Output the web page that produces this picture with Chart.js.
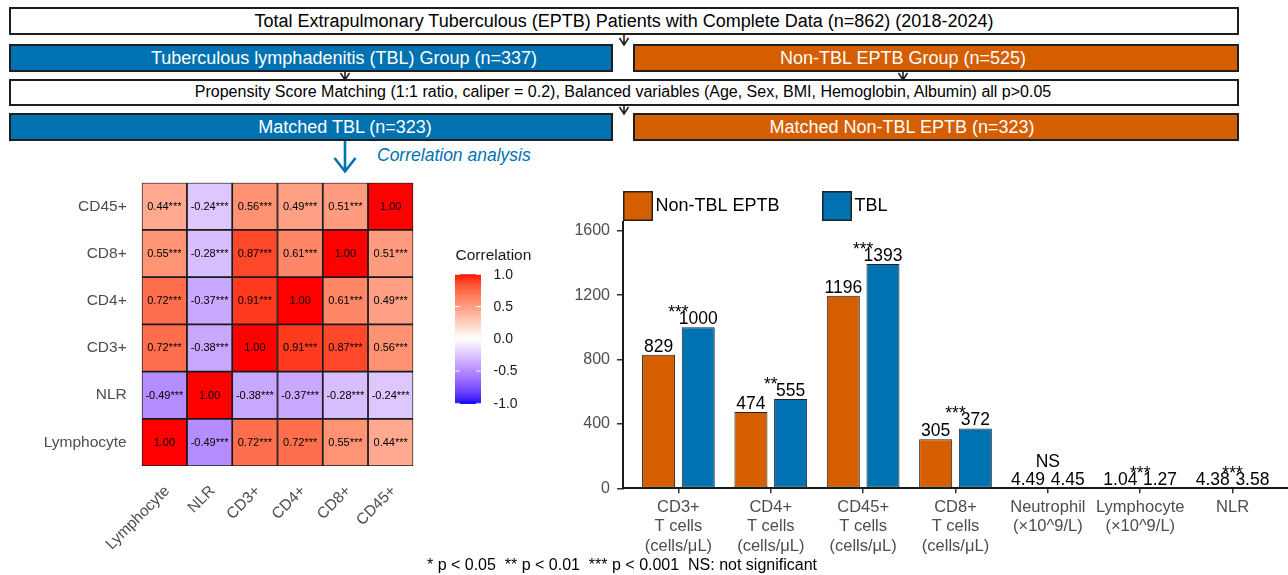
<!DOCTYPE html>
<html>
<head>
<meta charset="utf-8">
<script src="https://cdn.jsdelivr.net/npm/chart.js@4.4.1/dist/chart.umd.min.js"></script>
<style>
  html, body { margin: 0; padding: 0; background: #fff; }
  #page { position: relative; width: 1288px; height: 575px; overflow: hidden;
          font-family: "Liberation Sans", Arial, sans-serif; }
  .box { position: absolute; box-sizing: border-box; border: 2px solid #1e1e1e; }
  .white { background: #fff; }
  .blue { background: #0072B2; }
  .orange { background: #D55E00; }
  .txt { position: absolute; width: 1000px; text-align: center; white-space: pre; }
  canvas { position: absolute; }
  #flow { position: absolute; left: 0; top: 0; }
</style>
</head>
<body>
<div id="page">
  <!-- study flow -->
  <div class="box white"  style="left:9px;  top:7px;   width:1230px; height:28px;"></div>
  <div class="box blue"   style="left:9px;  top:44px;  width:604px;  height:28px;"></div>
  <div class="box orange" style="left:633px;top:44px;  width:606px;  height:28px;"></div>
  <div class="box white"  style="left:9px;  top:79px;  width:1230px; height:27px;"></div>
  <div class="box blue"   style="left:9px;  top:113px; width:604px;  height:28px;"></div>
  <div class="box orange" style="left:633px;top:113px; width:606px;  height:28px;"></div>

  <div class="txt" style="left:124px; top:10px;font-size:18px;line-height:22px;color:#000;">Total Extrapulmonary Tuberculous (EPTB) Patients with Complete Data (n=862) (2018-2024)</div>
  <div class="txt" style="left:-156px;top:47px;font-size:18px;line-height:22px;color:#fff;">Tuberculous lymphadenitis (TBL) Group (n=337)</div>
  <div class="txt" style="left:403px; top:47px;font-size:18px;line-height:22px;color:#fff;">Non-TBL EPTB Group (n=525)</div>
  <div class="txt" style="left:123px; top:82px;font-size:16px;line-height:20px;color:#000;">Propensity Score Matching (1:1 ratio, caliper = 0.2), Balanced variables (Age, Sex, BMI, Hemoglobin, Albumin) all p&gt;0.05</div>
  <div class="txt" style="left:-155px;top:116px;font-size:18px;line-height:22px;color:#fff;">Matched TBL (n=323)</div>
  <div class="txt" style="left:402px; top:116px;font-size:18px;line-height:22px;color:#fff;">Matched Non-TBL EPTB (n=323)</div>

  <svg id="flow" width="1288" height="180">
    <g fill="none" stroke="#1e1e1e" stroke-width="1.6">
      <path d="M624 35 V45 M619.5 38 L624 45 L628.5 38"/>
      <path d="M345 72 V80 M340.5 73 L345 80 L349.5 73"/>
      <path d="M903 72 V80 M898.5 73 L903 80 L907.5 73"/>
      <path d="M624 106 V114 M619.5 107 L624 114 L628.5 107"/>
    </g>
    <path d="M345 141 V171 M334.5 158 L345 171.5 L355.5 158" fill="none" stroke="#0072B2" stroke-width="2.6"/>
  </svg>
  <div class="txt" style="left:377px;top:145px;width:auto;text-align:left;font-size:17.5px;line-height:21px;font-style:italic;color:#0072B2;">Correlation analysis</div>

  <canvas id="heat" width="560" height="425" style="left:0;top:150px;width:560px;height:425px;"></canvas>
  <canvas id="bars" width="728" height="400" style="left:560px;top:175px;width:728px;height:400px;"></canvas>

  <div class="txt" style="left:122px;top:555px;font-size:16px;line-height:20px;color:#000;">* p &lt; 0.05  ** p &lt; 0.01  *** p &lt; 0.001  NS: not significant</div>
</div>

<script>
// ---------- correlation matrix (Spearman r) ----------
const corrVars = ["Lymphocyte", "NLR", "CD3+", "CD4+", "CD8+", "CD45+"];
const corrLymphocyte = [1.00, -0.49, 0.72, 0.72, 0.55, 0.44];
const corrNLR        = [-0.49, 1.00, -0.38, -0.37, -0.28, -0.24];
const corrCD3        = [0.72, -0.38, 1.00, 0.91, 0.87, 0.56];
const corrCD4        = [0.72, -0.37, 0.91, 1.00, 0.61, 0.49];
const corrCD8        = [0.55, -0.28, 0.87, 0.61, 1.00, 0.51];
const corrCD45       = [0.44, -0.24, 0.56, 0.49, 0.51, 1.00];
const sigLymphocyte  = ["", "***", "***", "***", "***", "***"];
const sigNLR         = ["***", "", "***", "***", "***", "***"];
const sigCD3         = ["***", "***", "", "***", "***", "***"];
const sigCD4         = ["***", "***", "***", "", "***", "***"];
const sigCD8         = ["***", "***", "***", "***", "", "***"];
const sigCD45        = ["***", "***", "***", "***", "***", ""];
const colorbarTicks  = [1.0, 0.5, 0.0, -0.5, -1.0];

// ---------- group means ----------
const markerLabels = [
  ["CD3+", "T cells", "(cells/\u03bcL)"],
  ["CD4+", "T cells", "(cells/\u03bcL)"],
  ["CD45+", "T cells", "(cells/\u03bcL)"],
  ["CD8+", "T cells", "(cells/\u03bcL)"],
  ["Neutrophil", "(\u00d710^9/L)"],
  ["Lymphocyte", "(\u00d710^9/L)"],
  ["NLR"]
];
const nonTblMeans = [829, 474, 1196, 305, 4.49, 1.04, 4.38];
const tblMeans    = [1000, 555, 1393, 372, 4.45, 1.27, 3.58];
const sigMarks    = ["***", "**", "***", "***", "NS", "***", "***"];
const yTicks      = [0, 400, 800, 1200, 1600];

const FONT = '"Liberation Sans", Arial, sans-serif';
Chart.defaults.font.family = FONT;
const AXIS_GREY = '#4D4D4D';
const ORANGE = '#D55E00';
const BLUE = '#0072B2';

// ---------- diverging blue-white-red palette interpolated in CIELAB ----------
function rgbToLab(r, g, b) {
  const lin = v => { v /= 255; return v > 0.04045 ? Math.pow((v + 0.055) / 1.055, 2.4) : v / 12.92; };
  const R = lin(r), G = lin(g), B = lin(b);
  const X = (R * 0.4124 + G * 0.3576 + B * 0.1805) / 0.95047;
  const Y = (R * 0.2126 + G * 0.7152 + B * 0.0722);
  const Z = (R * 0.0193 + G * 0.1192 + B * 0.9505) / 1.08883;
  const f = t => t > 0.008856 ? Math.cbrt(t) : 7.787 * t + 16 / 116;
  const fx = f(X), fy = f(Y), fz = f(Z);
  return [116 * fy - 16, 500 * (fx - fy), 200 * (fy - fz)];
}
function labToRgb(L, a, b) {
  const fy = (L + 16) / 116, fx = a / 500 + fy, fz = fy - b / 200;
  const inv = t => t * t * t > 0.008856 ? t * t * t : (t - 16 / 116) / 7.787;
  const X = inv(fx) * 0.95047, Y = inv(fy), Z = inv(fz) * 1.08883;
  let r = 3.2406 * X - 1.5372 * Y - 0.4986 * Z;
  let g = -0.9689 * X + 1.8758 * Y + 0.0415 * Z;
  let bb = 0.0557 * X - 0.2040 * Y + 1.0570 * Z;
  const gam = v => { v = v > 0.0031308 ? 1.055 * Math.pow(v, 1 / 2.4) - 0.055 : 12.92 * v; return Math.round(Math.min(1, Math.max(0, v)) * 255); };
  return `rgb(${gam(r)},${gam(g)},${gam(bb)})`;
}
const LAB_LOW = rgbToLab(0, 0, 255), LAB_MID = rgbToLab(255, 255, 255), LAB_HIGH = rgbToLab(255, 0, 0);
function corrColor(v) {
  const end = v >= 0 ? LAB_HIGH : LAB_LOW;
  const t = Math.min(1, Math.abs(v));
  return labToRgb(
    LAB_MID[0] + (end[0] - LAB_MID[0]) * t,
    LAB_MID[1] + (end[1] - LAB_MID[1]) * t,
    LAB_MID[2] + (end[2] - LAB_MID[2]) * t);
}

// ---------- heatmap ----------
const corrRows = [corrLymphocyte, corrNLR, corrCD3, corrCD4, corrCD8, corrCD45];
const sigRows = [sigLymphocyte, sigNLR, sigCD3, sigCD4, sigCD8, sigCD45];

const heatDatasets = corrVars.map((name, r) => ({
  label: name,
  data: corrVars.map(() => [r, r + 1]),
  corr: corrRows[r],
  stars: sigRows[r],
  backgroundColor: corrRows[r].map(corrColor),
  borderColor: '#1a1a1a',
  borderWidth: 1.2,
  borderSkipped: false,
  grouped: false,
  barPercentage: 1,
  categoryPercentage: 1
}));

const heatPlugin = {
  id: 'heatDecor',
  afterDatasetsDraw(chart) {
    const ctx = chart.ctx;
    ctx.save();
    ctx.font = `11px ${FONT}`;
    ctx.fillStyle = '#000';
    ctx.textAlign = 'center';
    ctx.textBaseline = 'middle';
    chart.data.datasets.forEach((ds, di) => {
      chart.getDatasetMeta(di).data.forEach((el, ci) => {
        const c = el.getCenterPoint();
        const v = ds.corr[ci];
        ctx.fillText(v.toFixed(2) + ds.stars[ci], c.x, c.y + 0.5);
      });
    });

    // colour bar
    const barL = 455, barW = 26, barT = 124.3, barH = 129;
    const steps = 200;
    for (let i = 0; i < steps; i++) {
      const v = 1 - 2 * (i + 0.5) / steps;
      ctx.fillStyle = corrColor(v);
      ctx.fillRect(barL, barT + barH * i / steps, barW, barH / steps + 0.6);
    }
    ctx.strokeStyle = 'rgba(255,255,255,0.9)';
    ctx.lineWidth = 1;
    ctx.font = `14px ${FONT}`;
    ctx.textAlign = 'left';
    colorbarTicks.forEach(v => {
      const y = barT + (1 - v) / 2 * barH;
      ctx.beginPath();
      ctx.moveTo(barL, y); ctx.lineTo(barL + 5, y);
      ctx.moveTo(barL + barW - 5, y); ctx.lineTo(barL + barW, y);
      ctx.stroke();
      ctx.fillStyle = '#1a1a1a';
      ctx.fillText(v.toFixed(1), 493.5, y + 0.5);
    });
    ctx.font = `15.5px ${FONT}`;
    ctx.fillStyle = '#1a1a1a';
    ctx.fillText('Correlation', 455.5, 105.5);
    ctx.restore();
  }
};

new Chart(document.getElementById('heat'), {
  type: 'bar',
  data: { labels: corrVars, datasets: heatDatasets },
  options: {
    responsive: false,
    animation: false,
    devicePixelRatio: 1,
    layout: { padding: { top: 32.7, right: 146.7, left: 0, bottom: 0 } },
    plugins: { legend: { display: false }, tooltip: { enabled: false } },
    scales: {
      x: {
        type: 'category',
        offset: true,
        grid: { display: false },
        border: { display: false },
        ticks: { color: AXIS_GREY, font: { size: 15.5 }, minRotation: 45, maxRotation: 45, autoSkip: false, padding: 8, labelOffset: 3 },
        afterFit(scale) { scale.height = 109; }
      },
      y: {
        type: 'linear',
        min: 0, max: corrVars.length,
        grid: { display: false },
        border: { display: false },
        afterBuildTicks(scale) { scale.ticks = corrVars.map((_, i) => ({ value: i + 0.5 })); },
        ticks: { color: AXIS_GREY, font: { size: 15.5 }, padding: 7, callback: v => corrVars[Math.floor(v)] },
        afterFit(scale) { scale.width = 141.7; }
      }
    }
  },
  plugins: [heatPlugin]
});

// ---------- grouped bars ----------
const barPlugin = {
  id: 'barDecor',
  afterDatasetsDraw(chart) {
    const ctx = chart.ctx;
    const xs = chart.scales.x, ys = chart.scales.y;
    ctx.save();
    ctx.font = `17.5px ${FONT}`;
    ctx.fillStyle = '#000';
    ctx.textAlign = 'center';
    ctx.textBaseline = 'alphabetic';
    chart.data.datasets.forEach((ds, di) => {
      chart.getDatasetMeta(di).data.forEach((el, i) => {
        ctx.fillText(String(ds.data[i].y), el.x, el.y - 3);
      });
    });
    sigMarks.forEach((s, i) => {
      const top = ys.getPixelForValue(Math.max(nonTblMeans[i], tblMeans[i]));
      const lift = s === 'NS' ? 21 : 9;
      ctx.fillText(s, xs.getPixelForValue(i), top - lift);
    });

    // legend across the top of the panel
    const legX = [chart.chartArea.left, chart.chartArea.left + 199];
    const legY = chart.chartArea.top - 31;
    ctx.font = `18px ${FONT}`;
    ctx.textAlign = 'left';
    ctx.textBaseline = 'middle';
    chart.data.datasets.forEach((ds, di) => {
      const x = legX[di];
      ctx.fillStyle = ds.backgroundColor;
      ctx.fillRect(x, legY, 30, 30);
      ctx.strokeStyle = '#222';
      ctx.lineWidth = 1.5;
      ctx.strokeRect(x + 0.75, legY + 0.75, 28.5, 28.5);
      ctx.fillStyle = '#000';
      ctx.fillText(ds.label, x + 32.5, legY + 15.5);
    });
    ctx.restore();
  }
};

const barCommon = { borderColor: '#222', borderWidth: 1, borderSkipped: false, categoryPercentage: 0.859, barPercentage: 0.833 };

new Chart(document.getElementById('bars'), {
  type: 'bar',
  data: {
    datasets: [
      Object.assign({ label: 'Non-TBL EPTB', backgroundColor: ORANGE, data: nonTblMeans.map((v, i) => ({ x: i, y: v })) }, barCommon),
      Object.assign({ label: 'TBL', backgroundColor: BLUE, data: tblMeans.map((v, i) => ({ x: i, y: v })) }, barCommon)
    ]
  },
  options: {
    responsive: false,
    animation: false,
    devicePixelRatio: 1,
    layout: { padding: { top: 47, right: 0, left: 0, bottom: 0 } },
    plugins: { legend: { display: false }, tooltip: { enabled: false } },
    scales: {
      x: {
        type: 'linear',
        offset: false,
        min: -0.6, max: markerLabels.length - 0.4,
        grid: { display: true, offset: false, drawOnChartArea: false, drawTicks: true, tickLength: 5, color: '#333', lineWidth: 1.5 },
        border: { display: true, color: '#1a1a1a', width: 2 },
        afterBuildTicks(scale) { scale.ticks = markerLabels.map((_, i) => ({ value: i })); },
        ticks: { color: AXIS_GREY, font: { size: 16.5, lineHeight: 1.18 }, padding: 4, maxRotation: 0, autoSkip: false,
                 callback: v => markerLabels[v] },
        afterFit(scale) { scale.height = 86.7; }
      },
      y: {
        type: 'linear',
        min: 0, max: 1654,
        grid: { display: true, drawOnChartArea: false, drawTicks: true, tickLength: 6, color: '#333', lineWidth: 1.5 },
        border: { display: true, color: '#1a1a1a', width: 2 },
        afterBuildTicks(scale) { scale.ticks = yTicks.map(v => ({ value: v })); },
        ticks: { color: AXIS_GREY, font: { size: 16 }, padding: 7, callback: v => String(v) },
        afterFit(scale) { scale.width = 63; }
      }
    }
  },
  plugins: [barPlugin]
});
</script>
</body>
</html>
